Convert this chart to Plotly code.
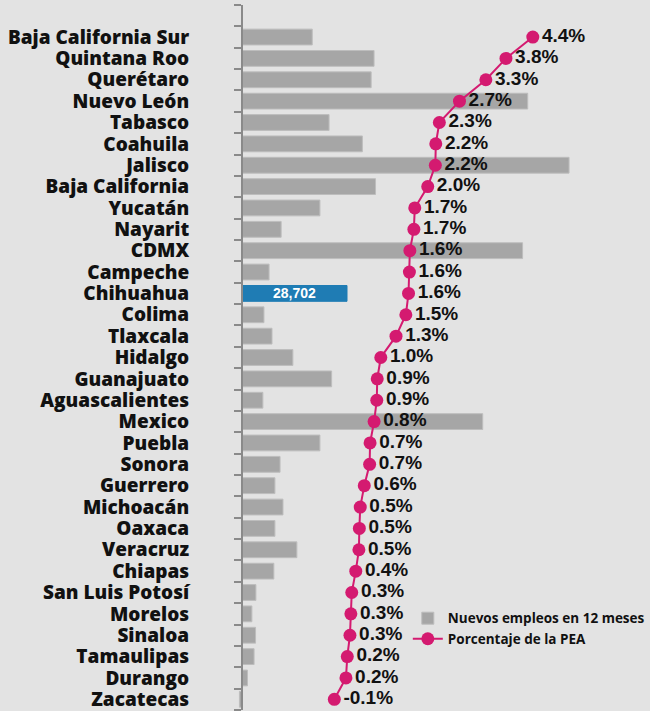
import plotly.graph_objects as go

states = ["Baja California Sur", "Quintana Roo", "Querétaro", "Nuevo León", "Tabasco",
          "Coahuila", "Jalisco", "Baja California", "Yucatán", "Nayarit", "CDMX",
          "Campeche", "Chihuahua", "Colima", "Tlaxcala", "Hidalgo", "Guanajuato",
          "Aguascalientes", "Mexico", "Puebla", "Sonora", "Guerrero", "Michoacán",
          "Oaxaca", "Veracruz", "Chiapas", "San Luis Potosí", "Morelos", "Sinaloa",
          "Tamaulipas", "Durango", "Zacatecas"]

new_jobs = [19200, 36100, 35300, 78100, 23800,
            32900, 89400, 36500, 21300, 10700, 76700,
            7400, 28702, 6000, 8200, 13900, 24500,
            5700, 65800, 21300, 10400, 9000, 11200,
            9000, 15000, 8700, 3800, 2700, 3700,
            3300, 1500, -700]

pea_pct = [4.38, 3.78, 3.33, 2.74, 2.29,
           2.21, 2.20, 2.03, 1.74, 1.72, 1.63,
           1.62, 1.60, 1.54, 1.32, 0.98, 0.90,
           0.89, 0.83, 0.74, 0.73, 0.61, 0.52,
           0.50, 0.49, 0.42, 0.33, 0.31, 0.29,
           0.23, 0.20, -0.06]

highlight = "Chihuahua"

idx = list(range(len(states)))
bar_colors = ["#1f7cb4" if s == highlight else "#a6a6a6" for s in states]
line_colors = ["#1f7cb4" if s == highlight else "#bdbdbd" for s in states]
bar_text = [f"{v:,}" if s == highlight else "" for s, v in zip(states, new_jobs)]

fig = go.Figure()
fig.add_trace(go.Bar(
    x=new_jobs, y=idx, orientation="h",
    name="Nuevos empleos en 12 meses",
    marker=dict(color=bar_colors, line=dict(color=line_colors, width=1)),
    width=0.74,
    text=bar_text, textposition="inside", insidetextanchor="middle",
    textangle=0, constraintext="none",
    textfont=dict(family="Liberation Sans", size=14, color="white", weight="bold"),
    hoverinfo="skip",
))
fig.add_trace(go.Scatter(
    x=pea_pct, y=idx, xaxis="x2",
    mode="lines+markers+text",
    name="Porcentaje de la PEA",
    line=dict(color="#d41a70", width=2),
    marker=dict(color="#d41a70", size=13),
    texttemplate="%{x:.1f}%",
    textposition="middle right",
    textfont=dict(family="Liberation Sans", size=19, color="#111111", weight="bold"),
    cliponaxis=False,
))

left_px = 236
plot_w = 650 - left_px
zero_px = 242 - left_px
px_per_job = 105 / 28702
px_per_pct = 44.7
pct_zero_px = 337 - left_px

fig.update_layout(
    width=650, height=711,
    margin=dict(l=left_px, r=0, t=5, b=1, autoexpand=False),
    paper_bgcolor="#e3e3e3",
    plot_bgcolor="#e3e3e3",
    showlegend=True,
    legend=dict(
        x=0.415, y=0.115, xanchor="left", yanchor="middle",
        bgcolor="rgba(0,0,0,0)",
        font=dict(family="Open Sans", size=13.5, color="#111111", weight="bold"),
        tracegroupgap=0,
    ),
    xaxis=dict(
        range=[-zero_px / px_per_job, (plot_w - zero_px) / px_per_job],
        visible=False, showgrid=False, zeroline=False,
    ),
    xaxis2=dict(
        range=[-pct_zero_px / px_per_pct, (plot_w - pct_zero_px) / px_per_pct],
        overlaying="x", side="top", visible=False, showgrid=False, zeroline=False,
    ),
    yaxis=dict(
        range=[len(states) - 0.5, -1.5],
        anchor="free", position=zero_px / plot_w,
        tickmode="array", tickvals=idx, ticktext=states,
        ticks="", showgrid=False, zeroline=False,
        showline=True, linecolor="#8a8a8a", linewidth=2,
        ticklabelstandoff=48, ticklabeloverflow="allow",
        tickfont=dict(family="Open Sans", size=19, color="#111111", weight=800),
        minor=dict(
            tickmode="array",
            tickvals=[i - 0.5 for i in range(-1, len(states) + 1)],
            ticks="outside", ticklen=7, tickwidth=2, tickcolor="#8a8a8a",
            showgrid=False,
        ),
    ),
)

fig.write_html("out.html", config={"displayModeBar": False},
               post_script="document.body.style.margin='0px';")
